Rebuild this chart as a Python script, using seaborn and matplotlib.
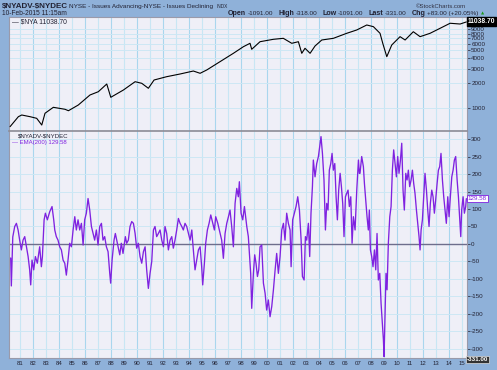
import matplotlib

matplotlib.use("Agg")

import matplotlib.pyplot as plt
import pandas as pd
import seaborn as sns


# $NYA (NYSE composite)
nya_years = [1980.23, 1980.87, 1981.13, 1981.77, 1982.28, 1982.67, 1982.92, 1983.56, 1984.46, 1984.72,
             1985.48, 1986.38, 1987.02, 1987.67, 1987.98, 1988.95, 1989.85, 1990.36, 1990.87, 1991.31,
             1992.28, 1993.31, 1994.33, 1994.85, 1995.36, 1996.38, 1997.41, 1998.18, 1998.69, 1998.82,
             1999.46, 2000.48, 2001.25, 2001.90, 2002.41, 2002.67, 2002.92, 2003.31, 2003.69, 2004.21,
             2005.10, 2006.13, 2006.90, 2007.67, 2008.18, 2008.69, 2008.90, 2009.21, 2009.59, 2010.23,
             2010.62, 2011.25, 2011.77, 2012.54, 2013.31, 2014.08, 2014.85, 2015.33]
nya_values = [600, 792, 830, 792, 757, 628, 871, 1028, 973, 935,
              1096, 1448, 1586, 1965, 1358, 1663, 2095, 2004, 1745, 2197,
              2409, 2596, 2820, 2647, 2902, 3656, 4615, 5546, 6095, 5160,
              6372, 6810, 7000, 6095, 6372, 4615, 5305, 4615, 5653, 6683,
              7000, 8050, 8830, 10140, 9680, 8050, 6095, 4200, 5810, 7330,
              6683, 8410, 7330, 8050, 9250, 10640, 10420, 11038.70]

# EMA(200) of $NYADV-$NYDEC
ema_years = [1980.28, 1980.33, 1980.44, 1980.59, 1980.72, 1980.85, 1980.97, 1981.10, 1981.23, 1981.36,
             1981.49, 1981.62, 1981.74, 1981.82, 1981.92, 1982.05, 1982.18, 1982.33, 1982.51, 1982.64,
             1982.72, 1982.85, 1982.95, 1983.10, 1983.28, 1983.46, 1983.59, 1983.67, 1983.79, 1983.92,
             1984.05, 1984.18, 1984.31, 1984.44, 1984.56, 1984.69, 1984.82, 1984.95, 1985.08, 1985.21,
             1985.33, 1985.46, 1985.59, 1985.72, 1985.85, 1985.97, 1986.10, 1986.23, 1986.36, 1986.49,
             1986.62, 1986.74, 1986.87, 1987.00, 1987.13, 1987.26, 1987.38, 1987.51, 1987.64, 1987.77,
             1987.90, 1987.97, 1988.08, 1988.23, 1988.33, 1988.49, 1988.67, 1988.79, 1988.92, 1989.10,
             1989.20, 1989.33, 1989.46, 1989.59, 1989.72, 1989.85, 1989.97, 1990.10, 1990.23, 1990.36,
             1990.49, 1990.62, 1990.74, 1990.87, 1991.00, 1991.13, 1991.26, 1991.38, 1991.51, 1991.64,
             1991.77, 1991.90, 1992.03, 1992.15, 1992.28, 1992.41, 1992.54, 1992.67, 1992.79, 1992.92,
             1993.05, 1993.18, 1993.31, 1993.44, 1993.56, 1993.69, 1993.82, 1993.95, 1994.08, 1994.21,
             1994.33, 1994.46, 1994.59, 1994.72, 1994.85, 1994.97, 1995.05, 1995.18, 1995.28, 1995.41,
             1995.54, 1995.67, 1995.79, 1995.95, 1996.05, 1996.21, 1996.33, 1996.51, 1996.64, 1996.77,
             1996.90, 1997.03, 1997.15, 1997.28, 1997.41, 1997.54, 1997.67, 1997.79, 1997.87, 1998.00,
             1998.13, 1998.26, 1998.44, 1998.56, 1998.64, 1998.74, 1998.82, 1998.95, 1999.05, 1999.15,
             1999.26, 1999.36, 1999.46, 1999.59, 1999.72, 1999.85, 1999.97, 2000.10, 2000.23, 2000.36,
             2000.49, 2000.62, 2000.74, 2000.87, 2001.00, 2001.13, 2001.26, 2001.38, 2001.51, 2001.64,
             2001.77, 2001.85, 2001.97, 2002.10, 2002.23, 2002.36, 2002.49, 2002.62, 2002.72, 2002.85,
             2002.95, 2003.05, 2003.18, 2003.28, 2003.38, 2003.49, 2003.56, 2003.69, 2003.82, 2003.95,
             2004.08, 2004.15, 2004.26, 2004.38, 2004.49, 2004.59, 2004.69, 2004.79, 2004.90, 2005.00,
             2005.10, 2005.21, 2005.31, 2005.41, 2005.51, 2005.62, 2005.72, 2005.82, 2005.92, 2006.03,
             2006.13, 2006.23, 2006.33, 2006.44, 2006.54, 2006.64, 2006.77, 2006.90, 2007.03, 2007.10,
             2007.15, 2007.28, 2007.41, 2007.49, 2007.59, 2007.69, 2007.79, 2007.87, 2007.95, 2008.05,
             2008.15, 2008.26, 2008.36, 2008.46, 2008.56, 2008.67, 2008.77, 2008.87, 2008.95, 2009.00,
             2009.08, 2009.15, 2009.23, 2009.33, 2009.44, 2009.54, 2009.64, 2009.74, 2009.85, 2009.95,
             2010.05, 2010.15, 2010.26, 2010.36, 2010.46, 2010.56, 2010.67, 2010.77, 2010.87, 2010.97,
             2011.08, 2011.18, 2011.28, 2011.38, 2011.49, 2011.59, 2011.69, 2011.77, 2011.85, 2011.95,
             2012.05, 2012.15, 2012.26, 2012.36, 2012.46, 2012.56, 2012.67, 2012.77, 2012.87, 2012.97,
             2013.08, 2013.18, 2013.28, 2013.38, 2013.49, 2013.59, 2013.69, 2013.79, 2013.90, 2014.00,
             2014.10, 2014.21, 2014.31, 2014.41, 2014.51, 2014.62, 2014.72, 2014.82, 2014.90, 2014.97,
             2015.08, 2015.18, 2015.28, 2015.33]
ema_values = [-40, -120, 20, 50, 59, 40, 11, -17, 11, 21,
              -8, -36, -74, -117, -46, -74, -36, -55, -8, -65,
              -36, 69, 88, 69, 92, 107, 69, 40, 21, 11,
              -8, -17, -46, -55, -89, -46, 2, -8, 40, 78,
              40, 69, 40, 59, -3, 69, 88, 130, 97, 50,
              30, 11, 40, -3, 50, 59, 11, 21, -8, -22,
              -84, -112, -46, 11, 30, 2, -31, 2, -27, 21,
              2, 11, 50, 64, 59, 30, -12, 2, -36, -55,
              -22, -8, -74, -127, -84, -50, 40, 50, 21, 30,
              40, 11, -8, 50, 30, -17, 11, 21, -12, 11,
              40, 73, 59, 50, 40, 59, 50, 30, 11, 40,
              -17, -74, -46, -17, -8, -65, -117, -55, 2, 40,
              59, 83, 64, 40, 78, 59, 40, 11, -41, 30,
              59, 78, 97, 50, -8, 116, 159, 135, 178, 88,
              69, 107, 50, 21, -27, -84, -184, -84, -31, -55,
              -93, -74, -8, -3, -112, -141, -189, -160, -208, -179,
              -131, -74, -27, -84, -36, 40, 59, 11, 88, 59,
              40, -65, 69, 88, 107, 135, 97, 11, -93, -103,
              21, 11, 59, -36, 88, 164, 240, 192, 230, 250,
              288, 307, 259, 183, 40, 116, 97, 211, 230, 259,
              211, 230, 135, 69, 154, 202, 164, 116, 21, 135,
              145, 154, 107, 135, 2, 78, 40, 154, 240, 202,
              202, 250, 221, 173, 126, 78, 40, 97, -17, -36,
              -65, -17, -74, 30, -103, -84, -170, -227, -274, -322,
              -189, -84, -131, 2, 78, 107, 211, 269, 230, 192,
              250, 202, 240, 288, 154, 97, 202, 183, 211, 164,
              183, 211, 173, 145, 97, 59, 21, -17, 40, 69,
              135, 202, 154, 97, 50, 116, 154, 135, 88, 126,
              173, 211, 221, 259, 183, 135, 97, 59, 135, 78,
              135, 192, 211, 240, 250, 183, 135, 69, 21, 97,
              135, 88, 107, 129.58]

year_ticks = list(range(1981, 2016))
year_labels = [f"{y % 100:02d}" for y in year_ticks]
nya_ticks = [1000, 2000, 3000, 4000, 5000, 6000, 7000, 8000, 9000]
ema_ticks = list(range(-300, 301, 50))
quote_parts = [("Open", "-1091.00"), ("High", "-318.00"), ("Low", "-1091.00"),
               ("Last", "-331.00"), ("Chg", "+83.00 (+20.05%)")]

FRAME = "#8fb1d9"
PANEL = "#efeff7"
PURPLE = "#7f22e0"
TXT = "#222233"

sns.set_style("white")
plt.rcParams["font.family"] = ["Liberation Sans", "DejaVu Sans"]
plt.rcParams["text.parse_math"] = False

W, H = 497, 370
fig = plt.figure(figsize=(W / 100, H / 100), dpi=100, facecolor=FRAME)


def px_box(x0, y0, x1, y1):
    return [x0 / W, 1 - y1 / H, (x1 - x0) / W, (y1 - y0) / H]


ax_top = fig.add_axes(px_box(9, 17, 467, 131))
ax_bot = fig.add_axes(px_box(9, 131, 467, 358))

nya = pd.DataFrame({"year": nya_years, "value": nya_values})
ema = pd.DataFrame({"year": ema_years, "value": ema_values})

for ax in (ax_top, ax_bot):
    ax.set_facecolor(PANEL)
    ax.set_xlim(1980.15, 2015.38)
    for y in year_ticks:
        ax.axvline(y, color="#a9d6ee" if y % 2 == 0 else "#c8e6f4", lw=0.8, zorder=0)
    for side in ("left", "top", "bottom", "right"):
        ax.spines[side].set_color("#9a9aaa")
        ax.spines[side].set_linewidth(0.8)
    ax.spines["right"].set_linestyle((0, (1, 1)))
    ax.yaxis.tick_right()
    ax.tick_params(axis="y", labelsize=4.5, length=2, width=0.5, pad=1, colors=TXT)

# upper panel: NYSE composite on a log scale
sns.lineplot(data=nya, x="year", y="value", ax=ax_top, color="black", linewidth=0.8, zorder=3)
ax_top.set_yscale("log")
ax_top.set_ylim(532, 12665)
ax_top.minorticks_off()
ax_top.set_yticks(nya_ticks, [str(t) for t in nya_ticks])
for t in nya_ticks:
    ax_top.axhline(t, color="#cde7f4", lw=0.7, zorder=0)
ax_top.set_xticks([])
ax_top.set_xlabel("")
ax_top.set_ylabel("")
ax_top.text(0.006, 0.959, "\u2014 $NYA 11038.70", transform=ax_top.transAxes, fontsize=4.9,
            color=TXT, va="center", ha="left")
ax_top.text(1.002, nya_values[-1], "11038.70", transform=ax_top.get_yaxis_transform(),
            fontsize=4.8, color="white", fontweight="bold", va="center", ha="left",
            bbox=dict(boxstyle="square,pad=0.15", fc="black", ec="black"), clip_on=False, zorder=6)

# lower panel: EMA(200) of advancers minus decliners
sns.lineplot(data=ema, x="year", y="value", ax=ax_bot, color=PURPLE, linewidth=0.95, zorder=3)
ax_bot.set_ylim(-326, 323)
ax_bot.set_yticks(ema_ticks, [str(t) for t in ema_ticks])
for t in ema_ticks:
    ax_bot.axhline(t, color="#cde7f4", lw=0.7, zorder=0)
ax_bot.axhline(0, color="#6e6e8c", lw=1.0, zorder=2)
ax_bot.spines["top"].set_color("#8c8c96")
ax_bot.spines["top"].set_linewidth(1.2)
ax_bot.set_xticks(year_ticks, year_labels)
ax_bot.tick_params(axis="x", labelsize=4.3, length=0, pad=2.5, colors=TXT)
ax_bot.set_xlabel("")
ax_bot.set_ylabel("")
ax_bot.text(0.020, 0.980, "$NYADV-$NYDEC", transform=ax_bot.transAxes, fontsize=4.4,
            color=TXT, va="center", ha="left")
ax_bot.text(0.006, 0.949, "\u2014 EMA(200) 129.58", transform=ax_bot.transAxes, fontsize=4.3,
            color=PURPLE, va="center", ha="left")
ax_bot.text(1.002, ema_values[-1], "129.58", transform=ax_bot.get_yaxis_transform(),
            fontsize=4.5, color=PURPLE, va="center", ha="left",
            bbox=dict(boxstyle="square,pad=0.15", fc="white", ec=PURPLE, lw=0.6), clip_on=False, zorder=6)
ax_bot.text(1.0, -331, "-331.00", transform=ax_bot.get_yaxis_transform(),
            fontsize=4.5, color="white", fontweight="bold", va="center", ha="left",
            bbox=dict(boxstyle="square,pad=0.15", fc="#333333", ec="#dddddd", lw=0.5), clip_on=False, zorder=6)


# header
def header(x, y, s, **kw):
    kw.setdefault("color", TXT)
    return fig.text(x / W, 1 - y / H, s, va="center", ha="left", **kw)


header(2, 6.5, "$NYADV-$NYDEC", fontsize=5.8, fontweight="bold")
header(69, 6.5, "NYSE - Issues Advancing-NYSE - Issues Declining", fontsize=4.6)
header(217, 7, "INDX", fontsize=3.4)
header(2, 13.5, "10-Feb-2015 11:15am", fontsize=4.8)
fig.text(466 / W, 1 - 6 / H, "\u00a9StockCharts.com", va="center", ha="right", color="#333344", fontsize=4.3)

# quote line: chain the pieces one after another
renderer = fig.canvas.get_renderer()
x = 228
for label, value in quote_parts:
    t = header(x, 13.5, label, fontsize=5.1, fontweight="bold")
    x = t.get_window_extent(renderer).x1 + 1.5
    t = header(x, 13.5, value, fontsize=4.6)
    x = t.get_window_extent(renderer).x1 + 5
header(x - 2, 13.5, "\u25b2", color="#1a9a1a", fontsize=3, family=["DejaVu Sans"])

fig.savefig("out.png", dpi=100, facecolor=FRAME)
